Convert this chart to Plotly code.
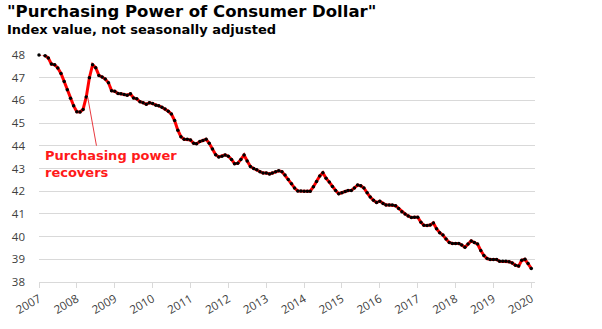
import pandas as pd
import plotly.graph_objects as go

# Monthly index values, Jan 2007 .. Jan 2020
values = [
    48.0, 48.09, 47.97, 47.87, 47.6, 47.57, 47.43, 47.19, 46.83, 46.47, 46.1, 45.76,
    45.5, 45.49, 45.6, 46.15, 47.0, 47.57, 47.44, 47.1, 47.03, 46.94, 46.78, 46.43,
    46.4, 46.3, 46.29, 46.26, 46.23, 46.29, 46.11, 46.07, 45.94, 45.9, 45.83, 45.9,
    45.86, 45.79, 45.76, 45.7, 45.62, 45.52,
    45.4, 45.11, 44.69, 44.4, 44.29, 44.29,
    44.26, 44.11, 44.09, 44.19, 44.23, 44.29, 44.11, 43.86, 43.61, 43.51, 43.54, 43.6,
    43.54, 43.4, 43.21, 43.23, 43.4, 43.59, 43.33, 43.09, 43.0, 42.94, 42.86, 42.8,
    42.8, 42.76, 42.8, 42.86, 42.9, 42.86, 42.71, 42.51, 42.33, 42.14, 42.01, 42.01,
    42.0, 42.0, 42.0, 42.2, 42.43, 42.67, 42.81, 42.57, 42.4, 42.21, 42.03, 41.89,
    41.93, 41.99, 42.03, 42.03, 42.14, 42.27, 42.24, 42.14, 41.93, 41.74, 41.6, 41.5,
    41.56, 41.46, 41.39, 41.39, 41.39, 41.36, 41.24, 41.1, 41.0, 40.91, 40.84, 40.85,
    40.85, 40.63, 40.5, 40.49, 40.51, 40.6, 40.35, 40.17, 40.07, 39.89, 39.74, 39.7,
    39.7, 39.7, 39.63, 39.53, 39.67, 39.81, 39.74, 39.67, 39.39, 39.17, 39.03, 38.99,
    38.99, 38.99, 38.91, 38.91, 38.91, 38.89, 38.84, 38.74, 38.7, 38.96, 39.0, 38.81,
    38.6,
]
dates = pd.date_range("2007-01-01", periods=len(values), freq="MS")

years = list(range(2007, 2021))
year_ticks = [f"{y}-01-01" for y in years]
year_labels = [str(y) for y in years]
y_ticks = list(range(38, 49))

title = '"Purchasing Power of Consumer Dollar"'
subtitle = "Index value, not seasonally adjusted"
note = "Purchasing power<br>recovers"

fig = go.Figure()
fig.add_trace(go.Scatter(
    x=dates, y=values, mode="lines+markers",
    line=dict(color="#ff0000", width=3),
    marker=dict(color="#000000", size=3.5),
    cliponaxis=False, hoverinfo="skip", showlegend=False,
))

annotations = [
    dict(x="2008-04-15", y=46.14, xref="x", yref="y",
         text="", showarrow=True, arrowhead=0, arrowwidth=1, arrowcolor="#e8393f",
         ax=9, ay=50),
    dict(x=0.008, y=0.518, xref="paper", yref="paper", text=f"<b>{note}</b>",
         showarrow=False, xanchor="left", yanchor="middle", align="left",
         font=dict(family="DejaVu Sans", size=13, color="#ff1a1a")),
    dict(text=f"<b>{title}</b>", xref="paper", yref="paper", x=-0.068, y=1.19,
         xanchor="left", yanchor="middle", showarrow=False,
         font=dict(family="DejaVu Sans", size=16.5, color="#000000")),
    dict(text=f"<b>{subtitle}</b>", xref="paper", yref="paper", x=-0.068, y=1.112,
         xanchor="left", yanchor="middle", showarrow=False,
         font=dict(family="DejaVu Sans", size=13, color="#000000")),
]

fig.update_layout(
    width=602, height=329,
    margin=dict(l=38, r=67, t=55, b=41),
    paper_bgcolor="white", plot_bgcolor="white",
    annotations=annotations,
    xaxis=dict(
        range=["2007-01-01", "2020-02-06"],
        tickvals=year_ticks, ticktext=year_labels, tickangle=-30,
        showgrid=False, showline=True, linecolor="#d9d9d9", linewidth=1,
        ticks="outside", ticklen=5, tickcolor="#d9d9d9",
        tickfont=dict(family="Open Sans", size=11.5, color="#404040"),
        zeroline=False,
    ),
    yaxis=dict(
        range=[38, 48], tickvals=y_ticks,
        showgrid=True, gridcolor="#d9d9d9", gridwidth=1,
        showline=False, zeroline=False, ticks="",
        ticklabelstandoff=13,
        tickfont=dict(family="Open Sans", size=11.5, color="#404040"),
    ),
)

fig.write_html("out.html")
